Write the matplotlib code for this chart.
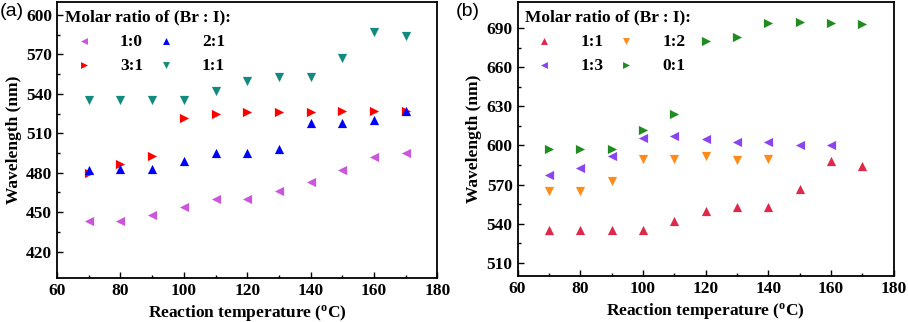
import numpy as np
import matplotlib.pyplot as plt

plt.rcParams['font.family'] = 'Liberation Serif'
plt.rcParams['font.weight'] = 'bold'
plt.rcParams['axes.labelweight'] = 'bold'

temps = [70, 80, 90, 100, 110, 120, 130, 140, 150, 160, 170]

# panel (a)
a_10 = [443, 443, 448, 454, 460, 460, 466, 473, 482, 492, 495]
a_21 = [482, 483, 483, 489, 495, 495, 498, 518, 518, 520, 527]
a_31 = [480, 487, 493, 522, 525, 526, 526, 526, 527, 527, 527]
a_11 = [535, 535, 535, 535, 542, 550, 553, 553, 567, 587, 584]

# panel (b)
b_11 = [535, 535, 535, 535, 542, 550, 553, 553, 567, 588, 584]
b_12 = [565, 565, 573, 590, 590, 592, 589, 590]
b_13 = [577, 583, 592, 606, 607, 605, 603, 603, 600, 600]
b_01 = [597, 597, 597, 612, 624, 680, 683, 694, 695, 694, 693]

fig = plt.figure(figsize=(9.08, 3.22), dpi=100)
ax1 = fig.add_axes([0.0628, 0.137, 0.419, 0.857])
ax2 = fig.add_axes([0.570, 0.143, 0.4144, 0.851])

ms = 44
ax1.scatter(temps, a_10, marker='<', s=ms, color='#CC55DD', label='1:0', lw=0)
ax1.scatter(temps, a_31, marker='>', s=ms, color='#FF0000', label='3:1', lw=0)
ax1.scatter(temps, a_21, marker='^', s=ms, color='#0000FF', label='2:1', lw=0)
ax1.scatter(temps, a_11, marker='v', s=ms, color='#138A80', label='1:1', lw=0)

ax2.scatter(temps, b_11, marker='^', s=ms, color='#E0284A', label='1:1', lw=0)
ax2.scatter(temps[:len(b_13)], b_13, marker='<', s=ms, color='#8A44F0', label='1:3', lw=0)
ax2.scatter(temps[:len(b_12)], b_12, marker='v', s=ms, color='#FF8C1A', label='1:2', lw=0)
ax2.scatter(temps, b_01, marker='>', s=ms, color='#228B22', label='0:1', lw=0)

for ax, lim, ticks in [(ax1, (400, 610), np.arange(420, 601, 30)),
                       (ax2, (500, 710), np.arange(510, 691, 30))]:
    ax.set_xlim(60, 180)
    ax.set_ylim(*lim)
    ax.set_xticks(np.arange(60, 181, 20))
    ax.set_xticks(np.arange(70, 180, 20), minor=True)
    ax.set_yticks(ticks)
    ax.set_yticks(ticks[:-1] + 15, minor=True)
    ax.tick_params(which='both', direction='in', labelsize=12.5, top=False, right=False)
    ax.tick_params(which='major', length=4.5, width=1)
    ax.tick_params(which='minor', length=2.5, width=1)
    for sp in ax.spines.values():
        sp.set_linewidth(1.3)
    ax.set_xlabel('Reaction temperature ($\\mathregular{^{o}}$C)', fontsize=12.5, labelpad=3)
    ax.set_ylabel('Wavelength (nm)', fontsize=12.5, labelpad=3)
    leg = ax.legend(ncol=2, loc='upper left', frameon=False, title='Molar ratio of (Br : I):',
                    fontsize=12.5, title_fontproperties={'weight': 'bold', 'size': 12.5},
                    alignment='left', handlelength=2.2, handletextpad=0.98, columnspacing=0.2,
                    borderpad=0.3, borderaxespad=0.15, labelspacing=0.45, markerscale=0.75)

fig.text(0.0, 0.99, '(a)', family='Liberation Sans', fontsize=14, weight='normal', va='top')
fig.text(0.502, 0.99, '(b)', family='Liberation Sans', fontsize=14, weight='normal', va='top')

fig.savefig('out.png', dpi=100)
